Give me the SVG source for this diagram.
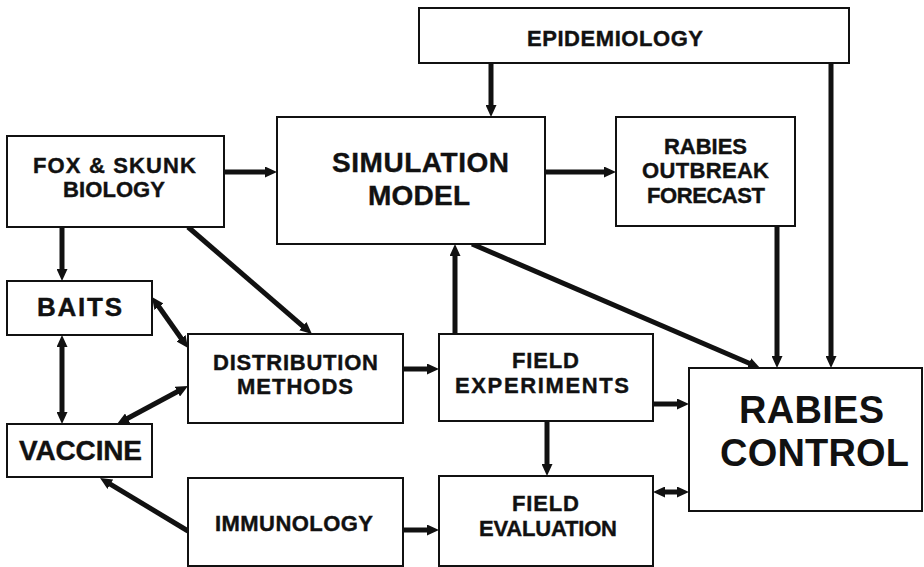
<svg xmlns="http://www.w3.org/2000/svg" width="924" height="567" viewBox="0 0 924 567">
  <style>
    .box { fill: #fff; stroke: #111; stroke-width: 2; }
    .lbl { font-family: "Liberation Sans", Arial, sans-serif; font-weight: bold; font-size: 22px; fill: #111; stroke: #111; stroke-width: 0.4; text-anchor: middle; }
    .big { font-size: 28px; }
    .mid { font-size: 26px; }
    .huge { font-size: 38px; }
    .conn line { stroke: #111; stroke-width: 5; fill: none; }
    .fwd { marker-end: url(#head); }
    .both { marker-start: url(#head); marker-end: url(#head); }
  </style>
  <defs>
    <marker id="head" viewBox="0 0 12 11" refX="4" refY="5.5" markerWidth="12" markerHeight="11" markerUnits="userSpaceOnUse" orient="auto-start-reverse">
      <path d="M0,0 L12,5.5 L0,11 z" fill="#111"/>
    </marker>
  </defs>
  <rect width="924" height="567" fill="#fff"/>

  <g id="connectors" class="conn">
    <line class="fwd" x1="491" y1="63" x2="491" y2="109"/>
    <line class="fwd" x1="831" y1="63" x2="831" y2="360"/>
    <line class="fwd" x1="224" y1="172" x2="269" y2="172"/>
    <line class="fwd" x1="545" y1="172" x2="608" y2="172"/>
    <line class="fwd" x1="777" y1="226" x2="777" y2="360"/>
    <line class="fwd" x1="62" y1="227" x2="62" y2="273"/>
    <line class="fwd" x1="188" y1="227" x2="305.9" y2="328.8"/>
    <line class="both" x1="156.6" y1="303.5" x2="183.4" y2="341.5"/>
    <line class="both" x1="62" y1="343" x2="62" y2="416"/>
    <line class="both" x1="124.1" y1="420.2" x2="180.9" y2="389.8"/>
    <line class="fwd" x1="188" y1="531" x2="106.9" y2="482.1"/>
    <line class="fwd" x1="403" y1="530" x2="431" y2="530"/>
    <line class="fwd" x1="403" y1="369" x2="431" y2="369"/>
    <line class="fwd" x1="455" y1="334" x2="455" y2="252"/>
    <line class="fwd" x1="472" y1="244" x2="752.7" y2="364.8"/>
    <line class="fwd" x1="653" y1="404" x2="681" y2="404"/>
    <line class="fwd" x1="547" y1="421" x2="547" y2="468"/>
    <line class="both" x1="661" y1="492" x2="681" y2="492"/>
  </g>

  <g id="epidemiology">
    <rect class="box" x="419" y="8" width="430" height="55"/>
    <text class="lbl" x="615" y="46" textLength="176">EPIDEMIOLOGY</text>
  </g>
  <g id="simulation-model">
    <rect class="box" x="277" y="117" width="268" height="127"/>
    <text class="lbl big" x="420.5" y="172" textLength="177">SIMULATION</text>
    <text class="lbl big" x="419" y="205" textLength="102">MODEL</text>
  </g>
  <g id="fox-skunk-biology">
    <rect class="box" x="7" y="136" width="217" height="91"/>
    <text class="lbl" x="114.5" y="173" textLength="163">FOX &amp; SKUNK</text>
    <text class="lbl" x="114" y="197" textLength="102">BIOLOGY</text>
  </g>
  <g id="outbreak-forecast">
    <rect class="box" x="616" y="117" width="179" height="109"/>
    <text class="lbl" x="705.5" y="154" textLength="83">RABIES</text>
    <text class="lbl" x="705.5" y="178" textLength="127">OUTBREAK</text>
    <text class="lbl" x="706" y="203" textLength="118">FORECAST</text>
  </g>
  <g id="baits">
    <rect class="box" x="7" y="281" width="145" height="54"/>
    <text class="lbl mid" x="79.5" y="316" textLength="85">BAITS</text>
  </g>
  <g id="distribution-methods">
    <rect class="box" x="188" y="334" width="215" height="89"/>
    <text class="lbl" x="295.5" y="370" textLength="165">DISTRIBUTION</text>
    <text class="lbl" x="295" y="394" textLength="116">METHODS</text>
  </g>
  <g id="vaccine">
    <rect class="box" x="7" y="424" width="145" height="53"/>
    <text class="lbl big" x="80.5" y="460" textLength="123">VACCINE</text>
  </g>
  <g id="immunology">
    <rect class="box" x="188" y="478" width="215" height="88"/>
    <text class="lbl" x="294" y="531" textLength="158">IMMUNOLOGY</text>
  </g>
  <g id="field-experiments">
    <rect class="box" x="439" y="334" width="214" height="87"/>
    <text class="lbl" x="545.5" y="368" textLength="67">FIELD</text>
    <text class="lbl" x="542" y="393" textLength="174">EXPERIMENTS</text>
  </g>
  <g id="field-evaluation">
    <rect class="box" x="439" y="476" width="214" height="90"/>
    <text class="lbl" x="545.5" y="511" textLength="67">FIELD</text>
    <text class="lbl" x="548" y="536" textLength="138">EVALUATION</text>
  </g>
  <g id="rabies-control">
    <rect class="box" x="689" y="368" width="233" height="143"/>
    <text class="lbl huge" x="811.5" y="423" textLength="145" style="stroke-width:0">RABIES</text>
    <text class="lbl huge" x="814.5" y="466" textLength="189" style="stroke-width:0">CONTROL</text>
  </g>
</svg>
